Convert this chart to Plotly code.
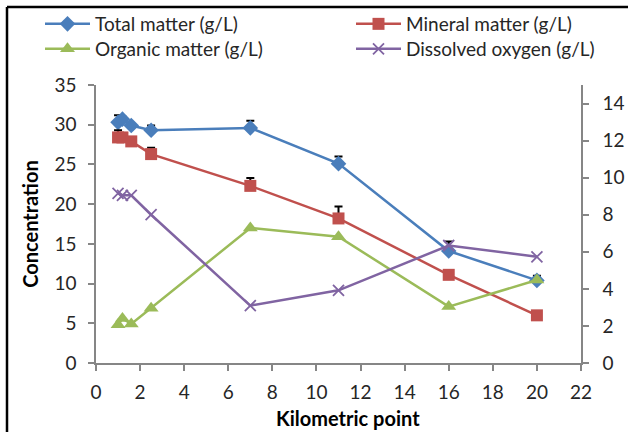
import plotly.graph_objects as go

# ---- data ----
km = [1.0, 1.2, 1.6, 2.5, 7, 11, 16, 20]
total_matter = [30.3, 30.7, 29.9, 29.3, 29.6, 25.1, 14.1, 10.4]
total_err = [0.9, 0.3, 0.2, 0.6, 0.9, 0.9, 1.2, 0.6]
mineral_matter = [28.4, 28.4, 27.9, 26.3, 22.3, 18.2, 11.1, 6.0]
mineral_err = [0.9, 0.3, 0.2, 0.8, 1.0, 1.5, 0.3, 0.3]
organic_matter = [4.8, 5.6, 4.9, 6.9, 17.0, 15.9, 7.1, 10.45]
dissolved_oxygen = [9.15, 9.05, 9.05, 8.0, 3.1, 3.92, 6.34, 5.73]

names = ["Total matter (g/L)", "Mineral matter (g/L)",
         "Organic matter (g/L)", "Dissolved oxygen (g/L)"]
colors = ["#4A7EBB", "#C0504D", "#9BBB59", "#8064A2"]
x_title = "Kilometric point"
y_title = "Concentration"

FONT = "Lato"
W, H = 628, 432
ML, MR, MT, MB = 96, 47, 85, 69
PW, PH = W - ML - MR, H - MT - MB


def px(xp):
    return (xp - ML) / PW


def py(yp):
    return (H - MB - yp) / PH


def err(arr):
    return dict(type="data", array=arr, arrayminus=[0] * len(arr),
                symmetric=False, color="black", thickness=2, width=4)


fig = go.Figure()
fig.add_trace(go.Scatter(x=km, y=total_matter, name=names[0], mode="lines+markers",
                         legend="legend",
                         line=dict(color=colors[0], width=2.5),
                         marker=dict(symbol="diamond", size=12, color=colors[0]),
                         error_y=err(total_err)))
fig.add_trace(go.Scatter(x=km, y=mineral_matter, name=names[1], mode="lines+markers",
                         legend="legend2",
                         line=dict(color=colors[1], width=2.5),
                         marker=dict(symbol="square", size=12, color=colors[1]),
                         error_y=err(mineral_err)))
fig.add_trace(go.Scatter(x=km, y=organic_matter, name=names[2], mode="lines+markers",
                         legend="legend3",
                         line=dict(color=colors[2], width=2.5),
                         marker=dict(symbol="triangle-up", size=13, color=colors[2])))
fig.add_trace(go.Scatter(x=km, y=dissolved_oxygen, name=names[3], mode="lines+markers",
                         legend="legend4", yaxis="y2",
                         line=dict(color=colors[3], width=2.5),
                         marker=dict(symbol="x-thin", size=11,
                                     line=dict(color=colors[3], width=1.8))))

axis_common = dict(showline=True, linecolor="#868686", linewidth=1.5,
                   ticks="outside", ticklen=6, tickcolor="#868686", tickwidth=1.5,
                   showgrid=False, zeroline=False,
                   tickfont=dict(family=FONT, size=19, color="#262626"))

legend_common = dict(orientation="v", xanchor="left", yanchor="top", itemwidth=45,
                     font=dict(family=FONT, size=19, color="#262626"),
                     bgcolor="rgba(0,0,0,0)", tracegroupgap=0)

fig.update_layout(
    width=W, height=H,
    margin=dict(l=ML, r=MR, t=MT, b=MB, autoexpand=False),
    paper_bgcolor="white", plot_bgcolor="white",
    font=dict(family=FONT, color="#262626"),
    xaxis=dict(range=[0, 22], dtick=2, tick0=0, ticklabelstandoff=5,
               **axis_common),
    yaxis=dict(range=[0, 35], dtick=5, tick0=0, ticklabelstandoff=8,
               title=dict(text="<b>" + y_title + "</b>", standoff=10,
                          font=dict(family=FONT, size=20, color="black")),
               **axis_common),
    yaxis2=dict(range=[0, 15], dtick=2, tick0=0, overlaying="y", side="right",
                ticklabelstandoff=10, **axis_common),
    legend=dict(x=px(40), y=py(5), **legend_common),
    legend2=dict(x=px(351), y=py(5), **legend_common),
    legend3=dict(x=px(40), y=py(30), **legend_common),
    legend4=dict(x=px(351), y=py(30), **legend_common),
    showlegend=True,
    annotations=[
        dict(text="<b>" + x_title + "</b>", xref="paper", yref="paper",
             x=px(348), y=py(404), xanchor="center", yanchor="top",
             showarrow=False, font=dict(family=FONT, size=20, color="black")),
    ],
    shapes=[
        dict(type="line", xref="paper", yref="paper", x0=px(7), x1=px(7),
             y0=py(7), y1=py(H + 5), line=dict(color="black", width=2.5)),
        dict(type="line", xref="paper", yref="paper", x0=px(7), x1=px(W + 5),
             y0=py(7), y1=py(7), line=dict(color="black", width=2.5)),
    ],
)

fig.write_html("out.html")
